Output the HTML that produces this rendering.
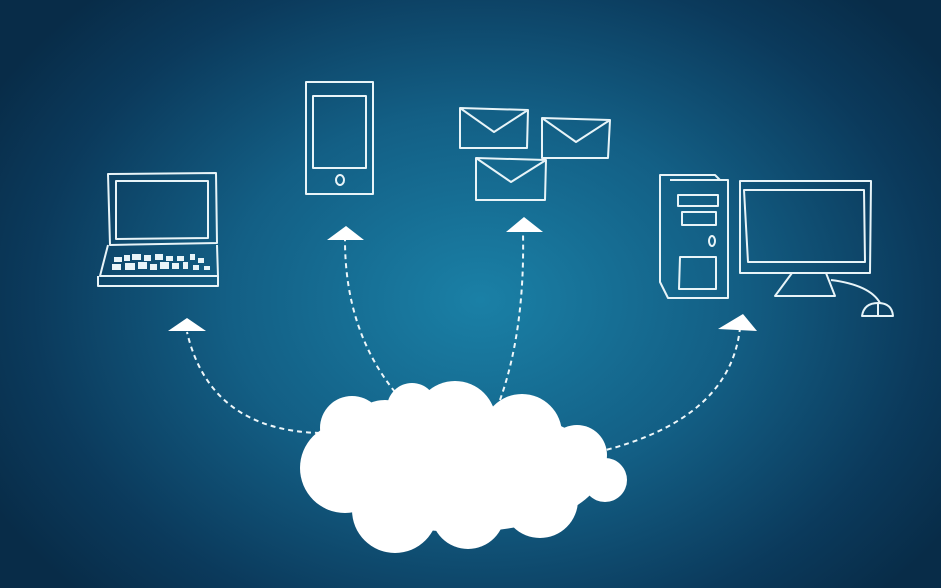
<!DOCTYPE html><html><head><style>html,body{margin:0;padding:0;overflow:hidden}body{width:941px;height:588px;background:radial-gradient(ellipse 560px 420px at 480px 300px,#1a80a6 0%,#135f85 45%,#0b3a5c 80%,#082c48 100%)}</style></head><body>
<svg width="941" height="588" viewBox="0 0 941 588" style="position:absolute;left:0;top:0">
<g fill="none" stroke="#e8f4f8" stroke-width="2" stroke-linejoin="round">
<path d="M108 174 L216 173 L217 243 L110 245 Z"/>
<path d="M116 181 L208 181 L208 238 L116 239 Z"/>
<path d="M108 245 L100 276 L218 276 L217 245"/>
<path d="M98 276 L98 286 L218 286 L218 276"/>
<rect x="306" y="82" width="67" height="112"/>
<rect x="313" y="96" width="53" height="72"/>
<ellipse cx="340" cy="180" rx="4" ry="5"/>
<path d="M460 108 L528 110 L527 148 L460 148 Z M460 108 L494 132 L528 110"/>
<path d="M542 118 L610 120 L608 158 L542 158 Z M542 118 L576 142 L610 120"/>
<path d="M476 158 L546 160 L545 200 L476 200 Z M476 158 L511 182 L546 160"/>
<path d="M660 175 L715 175 L720 180 L728 180 L728 298 L668 298 L660 282 Z"/>
<path d="M670 180 L728 180"/>
<path d="M678 195 L718 195 L718 206 L678 206 Z"/>
<path d="M682 212 L716 212 L716 225 L682 225 Z"/>
<ellipse cx="712" cy="241" rx="3" ry="5"/>
<path d="M680 257 L716 257 L716 289 L679 289 Z"/>
<path d="M740 181 L871 181 L870 273 L740 273 Z"/>
<path d="M744 190 L864 190 L865 262 L748 262 Z"/>
<path d="M792 273 L775 296 L835 296 L826 273"/>
<path d="M831 280 Q870 285 880 303"/>
<path d="M862 316 Q864 303 878 303 Q892 303 893 316 Z M878 303 L878 316"/>
</g>
<g fill="#e8f4f8">
<rect x="114" y="257" width="8" height="5"/><rect x="124" y="255" width="6" height="6"/><rect x="132" y="254" width="9" height="6"/><rect x="144" y="255" width="7" height="6"/><rect x="155" y="254" width="8" height="6"/><rect x="166" y="256" width="7" height="5"/><rect x="177" y="256" width="7" height="5"/><rect x="190" y="254" width="5" height="6"/><rect x="198" y="258" width="6" height="5"/>
<rect x="112" y="264" width="9" height="6"/><rect x="125" y="263" width="10" height="7"/><rect x="138" y="262" width="9" height="7"/><rect x="150" y="264" width="7" height="6"/><rect x="160" y="262" width="9" height="7"/><rect x="172" y="263" width="7" height="6"/><rect x="183" y="262" width="5" height="7"/><rect x="193" y="265" width="6" height="5"/><rect x="204" y="266" width="6" height="4"/>
</g>
<g fill="none" stroke="#eef7fa" stroke-width="2" stroke-dasharray="5 4">
<path d="M320 433 Q210 430 187 332"/>
<path d="M395 392 Q345 330 345 240"/>
<path d="M500 400 Q525 330 523 232"/>
<path d="M598 452 Q730 420 740 328"/>
</g>
<g fill="#ffffff">
<path d="M187 318 L168 331 L206 331 Z"/>
<path d="M346 226 L327 240 L364 240 Z"/>
<path d="M524 217 L506 232 L543 232 Z"/>
<path d="M743 314 L718 329 L757 331 Z"/>
</g>
<g fill="#ffffff">
<ellipse cx="462" cy="470" rx="140" ry="62"/>
<circle cx="345" cy="468" r="45"/>
<circle cx="352" cy="428" r="32"/>
<circle cx="385" cy="440" r="40"/>
<circle cx="412" cy="408" r="25"/>
<circle cx="440" cy="450" r="45"/>
<circle cx="455" cy="422" r="41"/>
<circle cx="500" cy="455" r="45"/>
<circle cx="522" cy="434" r="40"/>
<circle cx="560" cy="468" r="38"/>
<circle cx="577" cy="455" r="30"/>
<circle cx="605" cy="480" r="22"/>
<circle cx="395" cy="510" r="43"/>
<circle cx="468" cy="512" r="37"/>
<circle cx="540" cy="500" r="38"/>
</g>
</svg>
</body></html>
